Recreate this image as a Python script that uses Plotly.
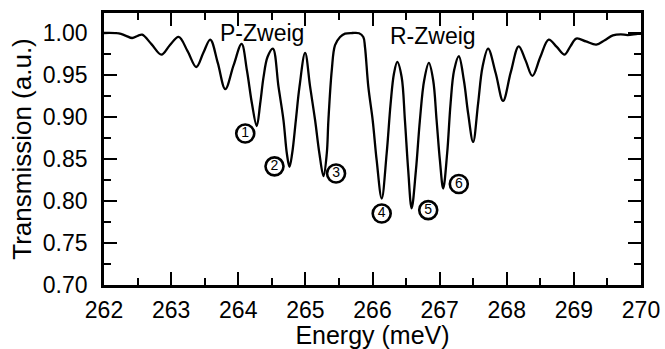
import plotly.graph_objects as go

# Transmission spectrum (energy in meV, transmission in a.u.)
energy = [
    262.00, 262.22, 262.32, 262.42, 262.50, 262.568, 262.71, 262.855, 262.98, 263.112,
    263.245, 263.375, 263.48, 263.583, 263.695, 263.807, 263.93, 264.05,
    264.129, 264.204, 264.275, 264.327, 264.377, 264.436, 264.516,
    264.60, 264.674, 264.724, 264.763, 264.803, 264.858, 264.912, 264.996,
    265.071, 265.145, 265.209, 265.27, 265.319, 265.343, 265.393, 265.442, 265.517, 265.591,
    265.70, 265.80, 265.863, 265.888, 265.938, 266.003, 266.062, 266.137,
    266.211, 266.27, 266.32, 266.369,
    266.434, 266.483, 266.532, 266.583, 266.647, 266.706, 266.77, 266.84,
    266.904, 266.955, 267.004, 267.053, 267.112, 267.163, 267.216, 267.286,
    267.361, 267.425, 267.499, 267.573, 267.639, 267.722,
    267.835, 267.945, 268.06, 268.178, 268.28, 268.382, 268.50, 268.625,
    268.745, 268.862, 268.95, 269.036, 269.18, 269.334, 269.46, 269.581,
    269.70, 269.80, 269.95, 270.00,
]
transmission = [
    0.9995, 0.9990, 0.9965, 0.9936, 0.9960, 0.9976, 0.9860, 0.9739, 0.9850, 0.9948,
    0.9780, 0.9591, 0.9760, 0.9917, 0.9640, 0.9327, 0.9610, 0.9865,
    0.9552, 0.9157, 0.8889, 0.9157, 0.9473, 0.9710, 0.9810,
    0.9354, 0.8958, 0.8563, 0.8404, 0.8563, 0.8958, 0.9354, 0.9758,
    0.9354, 0.8958, 0.8563, 0.8293, 0.8563, 0.8958, 0.9552, 0.9850, 0.9948, 0.9988,
    0.9995, 0.9992, 0.9948, 0.9829, 0.9354, 0.8958, 0.8483, 0.8028,
    0.8563, 0.9157, 0.9513, 0.9651,
    0.9473, 0.8958, 0.8365, 0.7910, 0.8365, 0.8958, 0.9433, 0.9639,
    0.9433, 0.8958, 0.8483, 0.8147, 0.8563, 0.9157, 0.9552, 0.9719,
    0.9433, 0.9038, 0.8700, 0.9157, 0.9591, 0.9810,
    0.9520, 0.9188, 0.9530, 0.9837, 0.9670, 0.9485, 0.9710, 0.9917,
    0.9830, 0.9739, 0.9840, 0.9929, 0.9895, 0.9857, 0.9910, 0.9968,
    0.9980, 0.9970, 0.9985, 0.9985,
]

# Numbered line markers
marker_labels = ["1", "2", "3", "4", "5", "6"]
marker_x = [264.104, 264.54, 265.457, 266.137, 266.83, 267.286]
marker_y = [0.880, 0.841, 0.8326, 0.785, 0.789, 0.820]

# Branch labels
branch_labels = ["P-Zweig", "R-Zweig"]
branch_x = [264.35, 266.905]
branch_y = [0.9995, 0.9958]

x_ticks = [262, 263, 264, 265, 266, 267, 268, 269, 270]
y_ticks = [0.70, 0.75, 0.80, 0.85, 0.90, 0.95, 1.00]

FONT = "Liberation Sans, Arial, sans-serif"

fig = go.Figure()
fig.add_trace(go.Scatter(
    x=energy, y=transmission, mode="lines",
    line=dict(color="black", width=2.3, shape="spline", smoothing=1.0),
    hoverinfo="skip", showlegend=False,
))
fig.add_trace(go.Scatter(
    x=marker_x, y=marker_y, mode="markers+text",
    text=marker_labels, textposition="middle center",
    textfont=dict(family=FONT, size=14, color="black"),
    marker=dict(symbol="circle-open", size=18, color="black", line=dict(width=2.6, color="black")),
    hoverinfo="skip", showlegend=False,
))
for lab, bx, by in zip(branch_labels, branch_x, branch_y):
    fig.add_annotation(x=bx, y=by, text=lab, showarrow=False,
                       font=dict(family=FONT, size=23, color="black"),
                       xanchor="center", yanchor="middle")

axis_common = dict(
    showgrid=False, zeroline=False, showline=True, linecolor="black", linewidth=2.6,
    mirror="ticks", ticks="inside", tickcolor="black", tickwidth=2.2,
    tickfont=dict(family=FONT, size=23, color="black"),
)
fig.update_xaxes(
    **axis_common, range=[262, 270], tickvals=x_ticks, ticklen=13,
    minor=dict(dtick=0.5, ticks="inside", ticklen=7, tickwidth=2.2, tickcolor="black"),
    title=dict(text="Energy (meV)", font=dict(family=FONT, size=25, color="black"), standoff=2),
    ticklabelstandoff=3,
)
fig.update_yaxes(
    **axis_common, range=[0.70, 1.0233], tickvals=y_ticks, tickformat=".2f", ticklen=13,
    minor=dict(dtick=0.025, ticks="inside", ticklen=7, tickwidth=2.2, tickcolor="black"),
    title=dict(text="Transmission (a.u.)", font=dict(family=FONT, size=26, color="black"), standoff=4),
    ticklabelstandoff=9,
)
fig.update_layout(
    width=665, height=349,
    margin=dict(l=103.5, r=23.5, t=12.7, b=64, autoexpand=False),
    paper_bgcolor="white", plot_bgcolor="white",
    font=dict(family=FONT, color="black"),
)
fig.write_html(
    "out.html",
    config={"displayModeBar": False},
    post_script="document.body.style.margin='0px';document.body.style.padding='0px';",
)
